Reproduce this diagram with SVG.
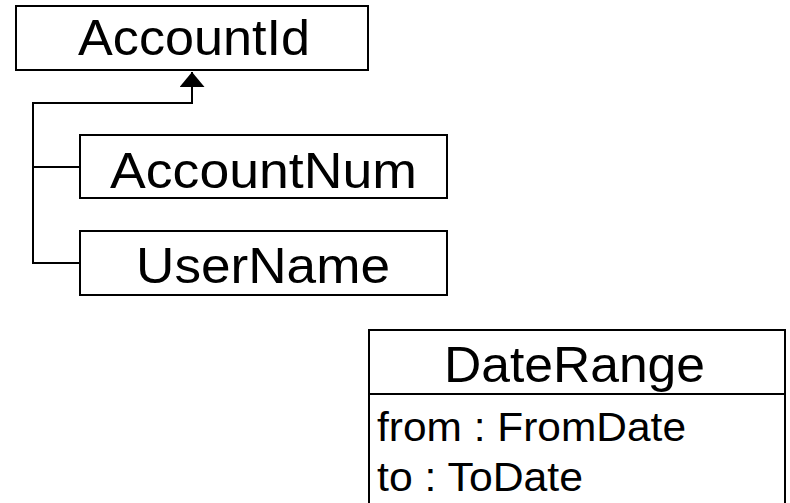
<svg xmlns="http://www.w3.org/2000/svg" width="790" height="503" viewBox="0 0 790 503">
  <defs>
    <style>
      .box { fill: #fff; stroke: #000; stroke-width: 2; }
      .title { font-family: "Liberation Sans", Arial, sans-serif; font-size: 50px; fill: #000; text-anchor: middle; }
      .attr { font-family: "Liberation Sans", Arial, sans-serif; font-size: 41px; fill: #000; }
      .conn { fill: none; stroke: #000; stroke-width: 2; }
    </style>
    <marker id="arrow" viewBox="0 0 15 25" refX="15" refY="12.5" markerWidth="15" markerHeight="25" markerUnits="userSpaceOnUse" orient="auto">
      <path d="M0,0 L15,12.5 L0,25 Z" fill="#000"/>
    </marker>
  </defs>
  <rect width="790" height="503" fill="#fff"/>

  <g id="connectors">
    <path class="conn" d="M80,167 H33 V103 H192 V72" marker-end="url(#arrow)"/>
    <path class="conn" d="M80,263 H33 V167"/>
  </g>

  <g id="AccountId">
    <rect class="box" x="16" y="6" width="352" height="64"/>
    <text class="title" x="194" y="55" textLength="232" lengthAdjust="spacingAndGlyphs">AccountId</text>
  </g>

  <g id="AccountNum">
    <rect class="box" x="80" y="135" width="367" height="63"/>
    <text class="title" x="263.5" y="188" textLength="307" lengthAdjust="spacingAndGlyphs">AccountNum</text>
  </g>

  <g id="UserName">
    <rect class="box" x="80" y="231" width="367" height="64"/>
    <text class="title" x="263" y="283" textLength="254" lengthAdjust="spacingAndGlyphs">UserName</text>
  </g>

  <g id="DateRange">
    <rect class="box" x="369" y="330" width="416" height="190"/>
    <line x1="369" y1="394" x2="785" y2="394" stroke="#000" stroke-width="2"/>
    <text class="title" x="574.5" y="382" textLength="261" lengthAdjust="spacingAndGlyphs">DateRange</text>
    <text class="attr" x="377" y="441" textLength="309" lengthAdjust="spacingAndGlyphs">from : FromDate</text>
    <text class="attr" x="377" y="491" textLength="206" lengthAdjust="spacingAndGlyphs">to : ToDate</text>
  </g>
</svg>
